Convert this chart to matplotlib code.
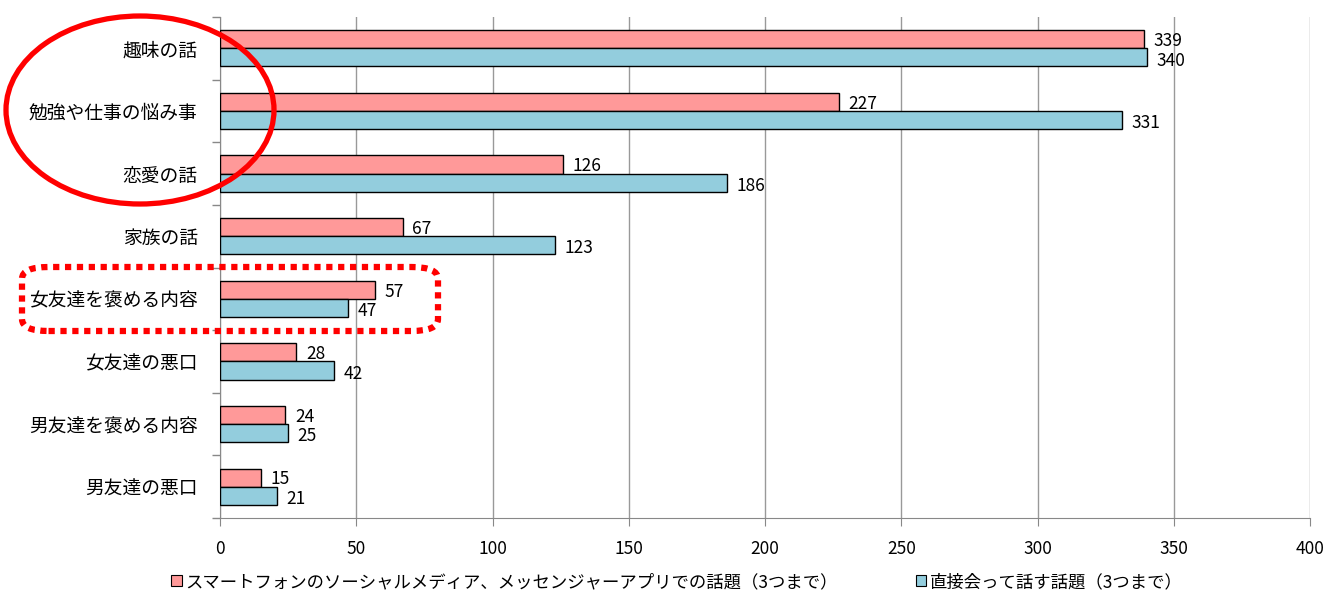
import matplotlib.pyplot as plt
import numpy as np
from matplotlib.patches import Ellipse, FancyBboxPatch, Patch

plt.rcParams['font.family'] = ['Noto Sans CJK JP', 'DejaVu Sans']

categories = ['趣味の話', '勉強や仕事の悩み事', '恋愛の話', '家族の話',
              '女友達を褒める内容', '女友達の悪口', '男友達を褒める内容', '男友達の悪口']
sns_values = [339, 227, 126, 67, 57, 28, 24, 15]
direct_values = [340, 331, 186, 123, 47, 42, 25, 21]
series_names = ['スマートフォンのソーシャルメディア、メッセンジャーアプリでの話題（3つまで）',
                '直接会って話す話題（3つまで）']
pink = '#ff9999'
blue = '#93cddd'

fig = plt.figure(figsize=(13.26, 5.94), dpi=100)
ax = fig.add_axes([220 / 1326, 1 - 518 / 594, 1090 / 1326, 501 / 594])

y = np.arange(len(categories))
h = 0.29
ax.barh(y - h / 2, sns_values, height=h, color=pink, edgecolor='black', linewidth=1, zorder=3)
ax.barh(y + h / 2, direct_values, height=h, color=blue, edgecolor='black', linewidth=1, zorder=3)

for i in range(len(categories)):
    ax.text(sns_values[i] + 3.5, y[i] - h / 2 + 0.03, str(sns_values[i]), va='center', ha='left', fontsize=12.5)
    ax.text(direct_values[i] + 3.5, y[i] + h / 2 + 0.05, str(direct_values[i]), va='center', ha='left', fontsize=12.5)

ax.set_xlim(0, 400)
ax.set_ylim(len(categories) - 0.5, -0.5)
ax.set_xticks(range(0, 401, 50))
ax.set_yticks(y)
ax.set_yticklabels(categories, fontsize=13.5)
ax.set_yticks(np.arange(-0.5, len(categories), 1), minor=True)
ax.tick_params(axis='y', which='major', length=0, pad=16)
ax.tick_params(axis='y', which='minor', length=6, color='#888888', width=1)
ax.tick_params(axis='x', length=6, color='#888888', labelsize=12.5, pad=10)
ax.grid(axis='x', color='#999999', linewidth=1, zorder=0)
for s in ['top', 'right']:
    ax.spines[s].set_visible(False)
ax.spines['left'].set_color('#888888')
ax.spines['bottom'].set_color('#888888')

# 注目ポイントの囲み
fig.patches.append(Ellipse((140 / 1326, 1 - 110 / 594), 268 / 1326, 188 / 594,
                           transform=fig.transFigure, fill=False, edgecolor='#ff0000', linewidth=3.8))
fig.patches.append(FancyBboxPatch((22 / 1326, 1 - 331 / 594), 416 / 1326, 64 / 594,
                                  boxstyle='round,pad=0,rounding_size=0.02',
                                  transform=fig.transFigure, fill=False, edgecolor='#ff0000',
                                  linewidth=4.5, linestyle=(0, (1.0, 0.9))))

handles = [Patch(facecolor=pink, edgecolor='black', linewidth=0.8),
           Patch(facecolor=blue, edgecolor='black', linewidth=0.8)]
fig.legend(handles, series_names, loc='center', bbox_to_anchor=(0.5106, 1 - 582 / 594), ncol=2,
           frameon=False, fontsize=12.5, handlelength=0.6, handleheight=0.6,
           handletextpad=0.2, columnspacing=4.5)

fig.savefig('out.png', dpi=100)
